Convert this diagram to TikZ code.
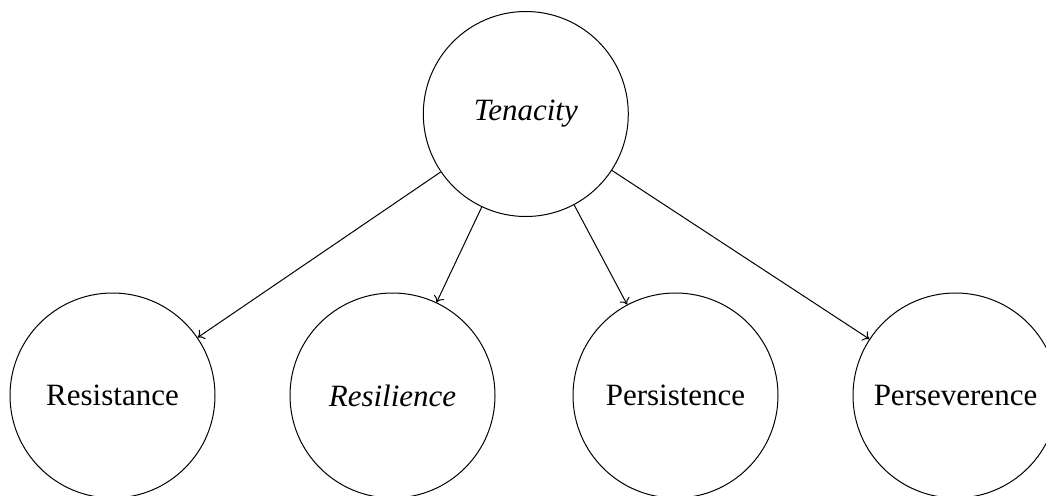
\documentclass[tikz,border=0pt]{standalone}
\usepackage{fontspec}
\setmainfont{Liberation Serif}
\usetikzlibrary{arrows.meta}
\begin{document}
\begin{tikzpicture}[x=1pt,y=-1pt,
  concept/.style={draw, circle, line width=1pt, minimum size=205pt, inner sep=0pt,
    font=\fontsize{31}{37}\selectfont},
  link/.style={-{To[length=6pt,width=11pt]}, line width=1pt}]
  \useasboundingbox (0,0) rectangle (1046,495);
  % root concept
  \node[concept] (ten) at (525.8,114) {\itshape Tenacity};
  % four aspects
  \node[concept] (res) at (112.5,395.5) {Resistance};
  \node[concept] (resil) at (392.5,395.5) {\itshape Resilience};
  \node[concept] (pers) at (675.5,395.5) {Persistence};
  \node[concept] (persev) at (955.5,395.5) {Perseverence};
  % links from the root
  \draw[link] (ten) -- (res);
  \draw[link] (ten) -- (resil);
  \draw[link] (ten) -- (pers);
  \draw[link] (ten) -- (persev);
\end{tikzpicture}
\end{document}
